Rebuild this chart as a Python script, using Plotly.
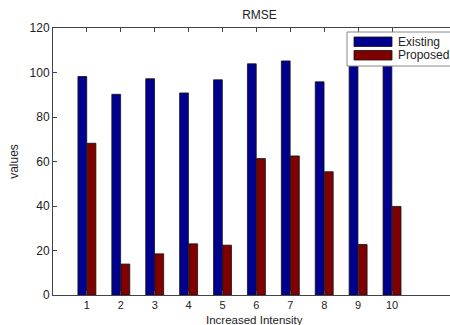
import plotly.graph_objects as go

# RMSE per intensity level
intensity = [1, 2, 3, 4, 5, 6, 7, 8, 9, 10]
existing = [98.2, 90.2, 97.2, 90.8, 96.7, 103.9, 105.2, 95.8, 107.0, 108.0]
proposed = [68.2, 13.9, 18.5, 23.0, 22.4, 61.3, 62.5, 55.4, 22.7, 39.8]
series_names = ["Existing", "Proposed"]
colors = ["rgb(0,0,143)", "rgb(128,0,0)"]

W, H = 450, 325
L, R, T, B = 53, 0, 28, 30
font = dict(family="Liberation Sans, Arial, sans-serif", size=12, color="#222")
tick_font = dict(family="Liberation Sans, Arial, sans-serif", size=11, color="#222")
xtitle_font = dict(family="Liberation Sans, Arial, sans-serif", size=11.5, color="#222")

fig = go.Figure()
for name, vals, c in zip(series_names, [existing, proposed], colors):
    fig.add_trace(go.Bar(x=intensity, y=vals, name=name, marker_color=c,
                         marker_line=dict(color="#111", width=0.8),
                         showlegend=False))


def px(x):
    return (x - L) / (W - L - R)


def py(y):
    return (H - B - y) / (H - T - B)


# boxed legend with wide colour swatches
shapes = [dict(type="rect", xref="paper", yref="paper", layer="above",
               x0=px(347), x1=px(452), y0=py(66), y1=py(32),
               fillcolor="white", line=dict(color="#888", width=1))]
annotations = []
for i, (name, c) in enumerate(zip(series_names, colors)):
    top = 37 + i * 13.5
    shapes.append(dict(type="rect", xref="paper", yref="paper", layer="above",
                       x0=px(354), x1=px(392), y0=py(top + 9.5), y1=py(top),
                       fillcolor=c, line=dict(color="#111", width=0.8)))
    annotations.append(dict(xref="paper", yref="paper", x=px(396), y=py(top + 4.8),
                            xanchor="left", yanchor="middle", text=name,
                            showarrow=False, font=font))

# x-axis title placed just under the tick labels
annotations.append(dict(xref="paper", yref="paper", x=px(254), y=py(326.5),
                        xanchor="center", yanchor="bottom", text="Increased Intensity",
                        showarrow=False, font=xtitle_font, borderpad=0))

fig.update_layout(
    width=W, height=H,
    margin=dict(l=L, r=R, t=T, b=B),
    paper_bgcolor="white", plot_bgcolor="white",
    font=font,
    barmode="group", bargap=0.46, bargroupgap=0.04,
    title=dict(text="RMSE", x=(L + (W - L) * 0.5 + 8) / W, xanchor="center",
               y=1 - 15 / H, yanchor="middle", font=font),
    shapes=shapes, annotations=annotations,
)
fig.update_xaxes(range=[0, 11.71], tickvals=intensity, ticks="inside", ticklen=4,
                 tickcolor="#444", showline=True, linecolor="#444", linewidth=1,
                 mirror="ticks", showgrid=False, zeroline=False, tickfont=tick_font)
fig.update_yaxes(range=[0, 120], tickvals=[0, 20, 40, 60, 80, 100, 120],
                 ticks="inside", ticklen=4, tickcolor="#444", showline=True,
                 linecolor="#444", linewidth=1, showgrid=False, zeroline=False,
                 tickfont=font,
                 title=dict(text="values", standoff=8, font=font))

fig.write_html("out.html")
